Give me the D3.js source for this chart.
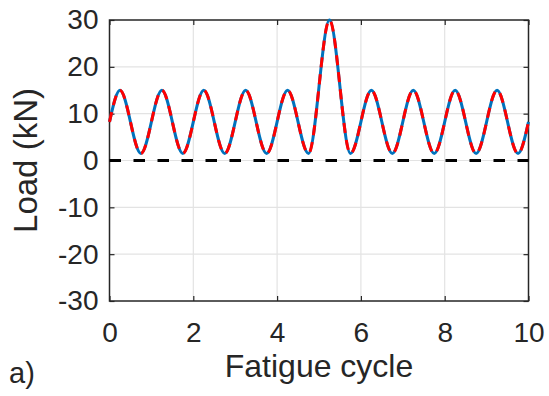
<!DOCTYPE html>
<html>
<head>
<meta charset="utf-8">
<script src="https://cdn.jsdelivr.net/npm/d3@7"></script>
<style>
  html, body { margin: 0; padding: 0; background: #fff; }
  svg { display: block; }
  text { font-family: "Liberation Sans", Arial, sans-serif; fill: #262626; }
</style>
</head>
<body>
<svg id="chart" width="549" height="396"></svg>
<script>
// Turning points of the applied load signal (cycle position, load in kN)
const cycleX = [0, 0.25, 0.75, 1.25, 1.75, 2.25, 2.75, 3.25, 3.75, 4.25, 4.75,
                5.25, 5.75, 6.25, 6.75, 7.25, 7.75, 8.25, 8.75, 9.25, 9.75, 10];
const loadCommand = [8.25, 15, 1.5, 15, 1.5, 15, 1.5, 15, 1.5, 15, 1.5,
                     30, 1.5, 15, 1.5, 15, 1.5, 15, 1.5, 15, 1.5, 8.25];
const loadMeasured = [8.25, 15, 1.5, 15, 1.5, 15, 1.5, 15, 1.5, 15, 1.5,
                      30, 1.5, 15, 1.5, 15, 1.5, 15, 1.5, 15, 1.5, 8.25];
const xTicks = [0, 2, 4, 6, 8, 10];
const yTicks = [-30, -20, -10, 0, 10, 20, 30];
const xDomain = [0, 10];
const yDomain = [-30, 30];

const svg = d3.select("#chart");
const m = { left: 109.5, top: 20, right: 528.5, bottom: 301 };
const w = m.right - m.left, h = m.bottom - m.top;

const x = d3.scaleLinear().domain(xDomain).range([m.left, m.right]);
const y = d3.scaleLinear().domain(yDomain).range([m.bottom, m.top]);
const fmt = d => String(d);

// grid
const grid = svg.append("g").attr("stroke", "#e3e3e3").attr("stroke-width", 1.2);
xTicks.slice(1, -1).forEach(t => grid.append("line")
  .attr("x1", x(t)).attr("x2", x(t)).attr("y1", m.top).attr("y2", m.bottom));
yTicks.slice(1, -1).forEach(t => grid.append("line")
  .attr("x1", m.left).attr("x2", m.right).attr("y1", y(t)).attr("y2", y(t)));

// axes with inward ticks
const axisStyle = g => {
  g.select(".domain").remove();
  g.selectAll(".tick line").attr("stroke", "#262626").attr("stroke-width", 1.2);
  g.selectAll("text").style("font-size", "28px").attr("fill", "#262626");
};
svg.append("g").attr("transform", `translate(${m.left},0)`)
  .call(d3.axisLeft(y).tickValues(yTicks).tickSize(-5).tickPadding(11).tickFormat(fmt))
  .call(axisStyle);
svg.append("g").attr("transform", `translate(${m.right},0)`)
  .call(d3.axisRight(y).tickValues(yTicks).tickSize(-5).tickFormat(""))
  .call(axisStyle);
svg.append("g").attr("transform", `translate(0,${m.bottom})`)
  .call(d3.axisBottom(x).tickValues(xTicks).tickSize(-5).tickPadding(21).tickFormat(fmt))
  .call(axisStyle);
svg.append("g").attr("transform", `translate(0,${m.top})`)
  .call(d3.axisTop(x).tickValues(xTicks).tickSize(-5).tickFormat(""))
  .call(axisStyle);

svg.append("rect")
  .attr("x", m.left).attr("y", m.top).attr("width", w).attr("height", h)
  .attr("fill", "none").attr("stroke", "#262626").attr("stroke-width", 1.5);

// zero-load reference
svg.append("line")
  .attr("x1", x(xDomain[0])).attr("x2", x(xDomain[1]))
  .attr("y1", y(0)).attr("y2", y(0))
  .attr("stroke", "#000").attr("stroke-width", 3)
  .attr("stroke-dasharray", "11.5,12.5");

const line = d3.line().curve(d3.curveMonotoneX);

svg.append("path")
  .attr("d", line(cycleX.map((v, i) => [x(v), y(loadMeasured[i])])))
  .attr("fill", "none").attr("stroke", "#0072BD").attr("stroke-width", 3);

svg.append("path")
  .attr("d", line(cycleX.map((v, i) => [x(v), y(loadCommand[i])])))
  .attr("fill", "none").attr("stroke", "#FF0000").attr("stroke-width", 3)
  .attr("stroke-dasharray", "10,7");

// labels
svg.append("text")
  .attr("x", (m.left + m.right) / 2).attr("y", 377)
  .attr("text-anchor", "middle").style("font-size", "32px")
  .text("Fatigue cycle");

svg.append("text")
  .attr("transform", `translate(37,${(m.top + m.bottom) / 2}) rotate(-90)`)
  .attr("text-anchor", "middle").style("font-size", "33px")
  .text("Load (kN)");

svg.append("text")
  .attr("x", 9).attr("y", 383)
  .style("font-size", "29px")
  .text("a)");
</script>
</body>
</html>
